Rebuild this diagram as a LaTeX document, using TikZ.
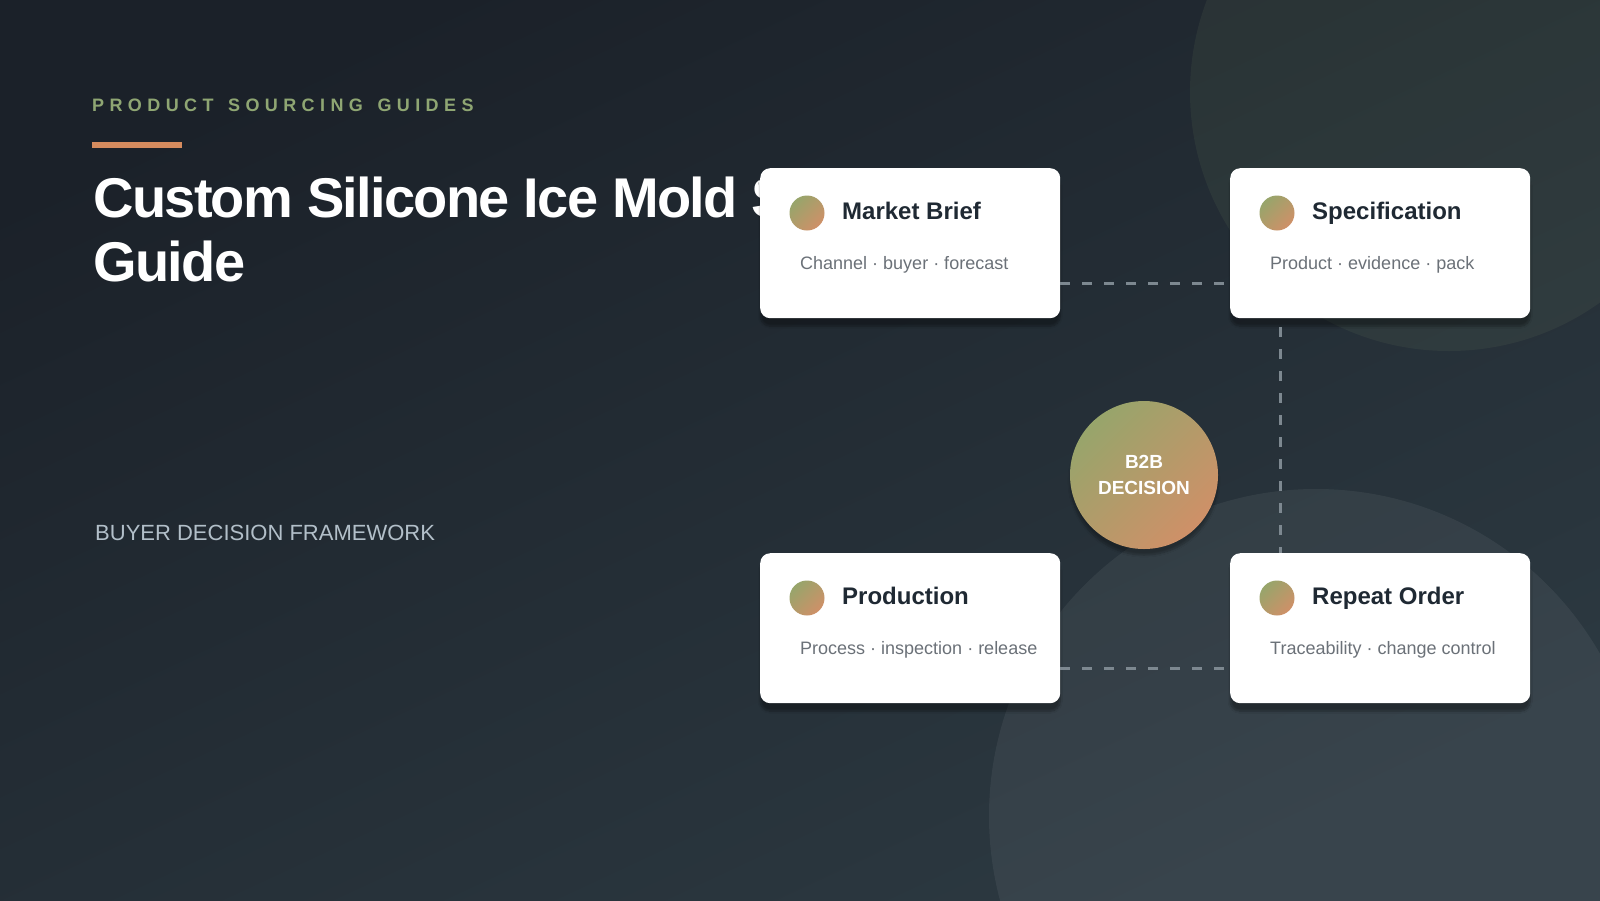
\documentclass[tikz,border=0pt]{standalone}
\usepackage{fontspec}
\setmainfont{Liberation Sans}
\newfontfamily\tracked[LetterSpace=30,WordSpace=1.4]{Liberation Sans}
\newfontfamily\tight[LetterSpace=-3]{Liberation Sans}
\usepackage{tikz}
\usetikzlibrary{shadows.blur}

\definecolor{bgtop}{HTML}{1B2129}
\definecolor{bgbottom}{HTML}{2C3941}
\definecolor{kicker}{HTML}{8FA673}
\definecolor{accent}{HTML}{D58B5E}
\definecolor{framework}{HTML}{B2BFC9}
\definecolor{cardink}{HTML}{1F2933}
\definecolor{subgray}{HTML}{6B7178}
\definecolor{linkgray}{HTML}{7D8890}
\definecolor{dotgreen}{HTML}{97A56B}
\definecolor{dotorange}{HTML}{CF9068}

\begin{document}
\begin{tikzpicture}[x=1pt,y=-1pt,
  card/.style={rectangle, rounded corners=10pt, fill=white, minimum width=300pt, minimum height=150pt, inner sep=0pt, anchor=north west,
    blur shadow={shadow blur steps=10, shadow blur extra rounding=6pt, shadow xshift=0pt, shadow yshift=-8pt, shadow opacity=35}},
  dot/.style={circle, inner sep=0pt, minimum size=35pt, top color=dotgreen, bottom color=dotorange, shading angle=45},
  cardtitle/.style={anchor=base west, inner sep=0pt, text=cardink, font=\bfseries\fontsize{24}{28}\selectfont},
  cardsub/.style={anchor=base west, inner sep=0pt, text=subgray, font=\fontsize{18}{22}\selectfont},
  link/.style={draw=linkgray, line width=3pt, dash pattern=on 10pt off 12pt}]
\useasboundingbox (0,0) rectangle (1600,900);
% background
\shade[top color=bgtop, bottom color=bgbottom, shading angle=25] (0,0) rectangle (1600,900);
\fill[kicker, opacity=0.09] (1449,92) circle (259pt);
\fill[white, opacity=0.06] (1316,816) circle (327pt);

% heading
\node[anchor=base west, inner sep=0pt, text=kicker, font=\tracked\bfseries\fontsize{18}{22}\selectfont] (kick) at (92,111) {PRODUCT SOURCING GUIDES};
\fill[accent] (92,142) rectangle (182,148);
\node[anchor=base west, inner sep=0pt, text=white, font=\tight\bfseries\fontsize{56}{64}\selectfont] (titleA) at (93,217) {Custom Silicone Ice Mold S};
\node[anchor=base west, inner sep=0pt, text=white, font=\tight\bfseries\fontsize{56}{64}\selectfont] (titleB) at (93,281) {Guide};
\node[anchor=base west, inner sep=0pt, text=framework, font=\fontsize{22}{26}\selectfont] (frame) at (95,540) {BUYER DECISION FRAMEWORK};

% cards
\node[card] (mb) at (760,168) {};
\node[card] (spec) at (1230,168) {};
\node[card] (prod) at (760,553) {};
\node[card] (ro) at (1230,553) {};

% dashed links
\draw[link] ([yshift=35pt]mb.south east) -- ([yshift=35pt]spec.south west);
\draw[link, dash phase=13pt] ([xshift=50pt]spec.south west) -- ([xshift=50pt]ro.north west);
\draw[link] ([yshift=35pt]prod.south east) -- ([yshift=35pt]ro.south west);

% card contents
\node[dot] (mbdot) at ([shift={(47,45)}]mb.north west) {};
\node[cardtitle] (mbtitle) at ([shift={(82,51)}]mb.north west) {Market Brief};
\node[cardsub] (mbsub) at ([shift={(40,101)}]mb.north west) {Channel · buyer · forecast};
\node[dot] (specdot) at ([shift={(47,45)}]spec.north west) {};
\node[cardtitle] (spectitle) at ([shift={(82,51)}]spec.north west) {Specification};
\node[cardsub] (specsub) at ([shift={(40,101)}]spec.north west) {Product · evidence · pack};
\node[dot] (proddot) at ([shift={(47,45)}]prod.north west) {};
\node[cardtitle] (prodtitle) at ([shift={(82,51)}]prod.north west) {Production};
\node[cardsub] (prodsub) at ([shift={(40,101)}]prod.north west) {Process · inspection · release};
\node[dot] (rodot) at ([shift={(47,45)}]ro.north west) {};
\node[cardtitle] (rotitle) at ([shift={(82,51)}]ro.north west) {Repeat Order};
\node[cardsub] (rosub) at ([shift={(40,101)}]ro.north west) {Traceability · change control};

% centre
\node[circle, minimum size=148pt, inner sep=0pt, top color=dotgreen, bottom color=dotorange, shading angle=45,
  blur shadow={shadow blur steps=10, shadow xshift=0pt, shadow yshift=-6pt, shadow opacity=30},
  text=white, align=center, font=\bfseries\fontsize{19}{26.5}\selectfont] (dec) at (1144,475) {B2B\\DECISION};
\end{tikzpicture}
\end{document}
